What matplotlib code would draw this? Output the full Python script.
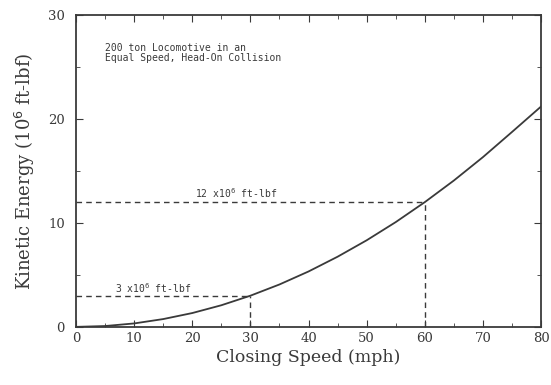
import numpy as np
import matplotlib.pyplot as plt
from matplotlib.ticker import MultipleLocator

# 读取的数据
speed = [0, 5, 10, 15, 20, 25, 30, 35, 40, 45, 50, 55, 60, 65, 70, 75, 80]
energy = [0, 0.08, 0.33, 0.75, 1.33, 2.08, 3.0, 4.08, 5.33, 6.75, 8.33,
          10.08, 12.0, 14.08, 16.33, 18.75, 21.2]
ref_speed = [30, 60]
ref_energy = [3, 12]
ref_labels = ['3 x10$^6$ ft-lbf', '12 x10$^6$ ft-lbf']
note = '200 ton Locomotive in an\nEqual Speed, Head-On Collision'

ink = '#3a3a3a'
plt.rcParams['font.family'] = 'DejaVu Serif'

fig = plt.figure(figsize=(5.51, 3.85), dpi=100)
ax = fig.add_axes([0.138, 0.151, 0.844, 0.810])

ax.plot(speed, energy, color=ink, lw=1.3)

# 参考虚线
for xs, ys in zip(ref_speed, ref_energy):
    ax.plot([0, xs], [ys, ys], color=ink, lw=1.0, ls=(0, (4, 3)))
    ax.plot([xs, xs], [0, ys], color=ink, lw=1.0, ls=(0, (4, 3)))

ax.text(6.7, 3.3, ref_labels[0], fontsize=7, color=ink, family='DejaVu Sans Mono')
ax.text(20.5, 12.4, ref_labels[1], fontsize=7, color=ink, family='DejaVu Sans Mono')
ax.text(5.0, 25.6, note, fontsize=7, color=ink, family='DejaVu Sans Mono',
        linespacing=0.95)

ax.set_xlim(0, 80)
ax.set_ylim(0, 30)
ax.xaxis.set_major_locator(MultipleLocator(10))
ax.xaxis.set_minor_locator(MultipleLocator(5))
ax.yaxis.set_major_locator(MultipleLocator(10))
ax.yaxis.set_minor_locator(MultipleLocator(5))
ax.tick_params(which='both', direction='in', top=True, right=True, colors=ink,
               labelsize=9.5)
ax.tick_params(which='major', length=5)
ax.tick_params(which='minor', length=3)
ax.tick_params(axis='y', pad=8)
for s in ax.spines.values():
    s.set_color(ink)
    s.set_linewidth(1.3)

ax.set_xlabel('Closing Speed (mph)', fontsize=12.5, color=ink, labelpad=3)
ax.set_ylabel('Kinetic Energy (10$^6$ ft-lbf)', fontsize=13, color=ink, labelpad=8)

fig.savefig('out.png', dpi=100)
